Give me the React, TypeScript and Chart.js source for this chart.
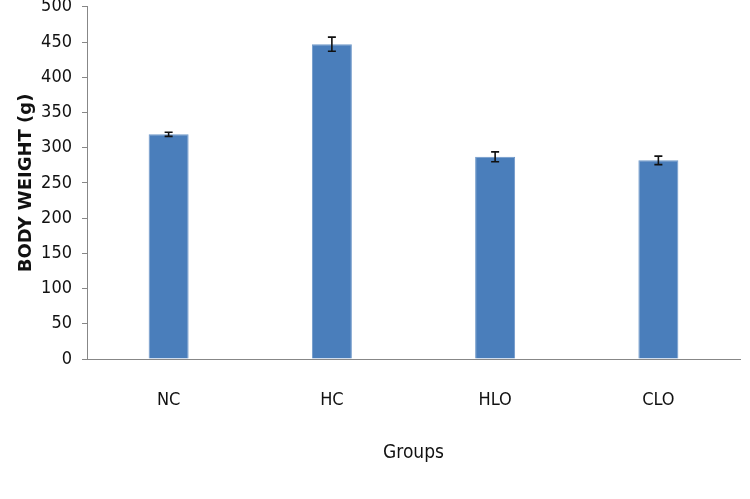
import React, { useEffect, useRef } from "react";
import { Chart, registerables } from "chart.js";

Chart.register(...registerables);

const groups = ["NC", "HC", "HLO", "CLO"];
const bodyWeight = [319, 447, 287, 282];
const bodyWeightSD = [3, 10, 7, 6];
const yMin = 0;
const yMax = 500;
const yStep = 50;
const yTitle = "BODY WEIGHT (g)";
const xTitle = "Groups";

const errorBarPlugin = {
  id: "errorBars",
  afterDatasetsDraw(chart: any) {
    const ctx = chart.ctx;
    const xs = chart.scales.x;
    const ys = chart.scales.y;
    ctx.save();
    ctx.strokeStyle = "#111";
    ctx.lineWidth = 1.6;
    bodyWeight.forEach((v, i) => {
      const sd = bodyWeightSD[i];
      const x = xs.getPixelForValue(i);
      const yTop = ys.getPixelForValue(v + sd);
      const yBot = ys.getPixelForValue(v - sd);
      ctx.beginPath();
      ctx.moveTo(x, yTop);
      ctx.lineTo(x, yBot);
      ctx.moveTo(x - 4, yTop);
      ctx.lineTo(x + 4, yTop);
      ctx.moveTo(x - 4, yBot);
      ctx.lineTo(x + 4, yBot);
      ctx.stroke();
    });
    ctx.restore();
  },
};

export default function App() {
  const ref = useRef<HTMLCanvasElement | null>(null);
  useEffect(() => {
    if (!ref.current) return;
    const narrow = "'DejaVu Sans Condensed', 'DejaVu Sans', sans-serif";
    const chart = new Chart(ref.current, {
      type: "bar",
      data: {
        labels: groups,
        datasets: [
          {
            data: bodyWeight,
            backgroundColor: "#4a7ebb",
            borderColor: "#6f98c9",
            borderWidth: 1,
            barPercentage: 0.245,
            categoryPercentage: 1,
          },
        ],
      },
      options: {
        animation: false,
        responsive: false,
        maintainAspectRatio: false,
        layout: { padding: { left: 4, right: 10, top: 0, bottom: 10 } },
        plugins: { legend: { display: false }, tooltip: { enabled: false } },
        scales: {
          x: {
            grid: { display: false, drawTicks: false },
            border: { display: true, color: "#878787", width: 1 },
            ticks: {
              color: "#111",
              padding: 31,
              font: { family: narrow, size: 18 },
            },
            title: {
              display: true,
              text: xTitle,
              color: "#111",
              font: { family: narrow, size: 19 },
              padding: { top: 24, bottom: 25 },
            },
            afterFit(scale: any) {
              scale.height = 130;
            },
          },
          y: {
            min: yMin,
            max: yMax,
            ticks: {
              stepSize: yStep,
              color: "#111",
              padding: 10,
              font: { family: narrow, size: 18 },
            },
            grid: {
              display: true,
              drawOnChartArea: false,
              drawTicks: true,
              tickLength: 5,
              color: "#878787",
            },
            border: { display: true, color: "#878787", width: 1 },
            title: {
              display: true,
              text: yTitle,
              color: "#111",
              font: { family: "'DejaVu Sans', sans-serif", size: 18, weight: "bold" },
              padding: { top: 12, bottom: 8 },
            },
            afterFit(scale: any) {
              scale.width = 83;
            },
          },
        },
      },
      plugins: [errorBarPlugin],
    });
    return () => chart.destroy();
  }, []);
  return (
    <div style={{ position: "fixed", left: 0, top: -14, width: 750, height: 513, background: "#fff" }}>
      <canvas ref={ref} width={750} height={513} style={{ display: "block" }} />
    </div>
  );
}
